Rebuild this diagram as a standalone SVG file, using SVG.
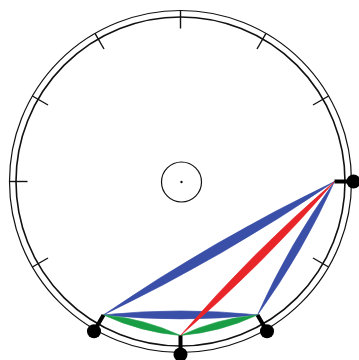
<svg xmlns="http://www.w3.org/2000/svg" width="359" height="360" viewBox="0 0 359 360">
<style>
.ring{fill:none;stroke:#111;}
.tick{stroke:#111;stroke-width:1.4;}
.stub{stroke:#000;stroke-width:4;}
.dot{fill:#000;}
.blue{fill:#3a4fa8;stroke:#3a4fa8;stroke-width:0.6;}
.red{fill:#e8262a;stroke:#e8262a;stroke-width:0.6;}
.green{fill:#1a9e45;stroke:#1a9e45;stroke-width:0.6;}
</style>
<rect width="359" height="360" fill="#fff"/>
<g id="dial">
<circle class="ring" cx="180.5" cy="181.5" r="171" stroke-width="1.2"/>
<circle class="ring" cx="180.5" cy="181.5" r="164.5" stroke-width="1.6"/>
<line class="tick" x1="180.5" y1="28.5" x2="180.5" y2="10.5"/>
<line class="tick" x1="257" y1="49" x2="266" y2="33.4"/>
<line class="tick" x1="313" y1="105" x2="328.6" y2="96"/>
<line class="tick" x1="313" y1="258" x2="328.6" y2="267"/>
<line class="tick" x1="48" y1="258" x2="32.4" y2="267"/>
<line class="tick" x1="27.5" y1="181.5" x2="9.5" y2="181.5"/>
<line class="tick" x1="48" y1="105" x2="32.4" y2="96"/>
<line class="tick" x1="104" y1="49" x2="95" y2="33.4"/>
</g>
<g id="hub">
<circle class="ring" cx="181.5" cy="182" r="20" stroke-width="1.2"/>
<circle cx="181.5" cy="182" r="1.2" fill="#111"/>
</g>
<g id="connectors">
<path class="blue" d="M103.5,314.9 Q224,257 334.5,181.5 Q214,239.5 103.5,314.9 Z"/>
<path class="blue" d="M257.5,314.9 Q302.9,252.2 334.5,181.5 Q289.1,244.2 257.5,314.9 Z"/>
<path class="blue" d="M103.5,314.9 Q180.5,322.9 257.5,314.9 Q180.5,306.9 103.5,314.9 Z"/>
<path class="green" d="M103.5,314.9 Q140.2,332 180.5,335.5 Q143.8,318.4 103.5,314.9 Z"/>
<path class="green" d="M180.5,335.5 Q220.8,332 257.5,314.9 Q217.2,318.4 180.5,335.5 Z"/>
<path class="red" d="M180.5,335.5 Q263.2,264.2 334.5,181.5 Q251.8,252.8 180.5,335.5 Z"/>
</g>
<g id="node-right">
<line class="stub" x1="334.5" y1="181.5" x2="353.5" y2="181.5"/>
<circle class="dot" cx="353.5" cy="181.5" r="7"/>
</g>
<g id="node-bottom-right">
<line class="stub" x1="257.5" y1="314.9" x2="267" y2="331.3"/>
<circle class="dot" cx="267" cy="331.3" r="7"/>
</g>
<g id="node-bottom">
<line class="stub" x1="180.5" y1="335.5" x2="180.5" y2="354.5"/>
<circle class="dot" cx="180.5" cy="354.5" r="7"/>
</g>
<g id="node-bottom-left">
<line class="stub" x1="103.5" y1="314.9" x2="94" y2="331.3"/>
<circle class="dot" cx="94" cy="331.3" r="7"/>
</g>
</svg>
